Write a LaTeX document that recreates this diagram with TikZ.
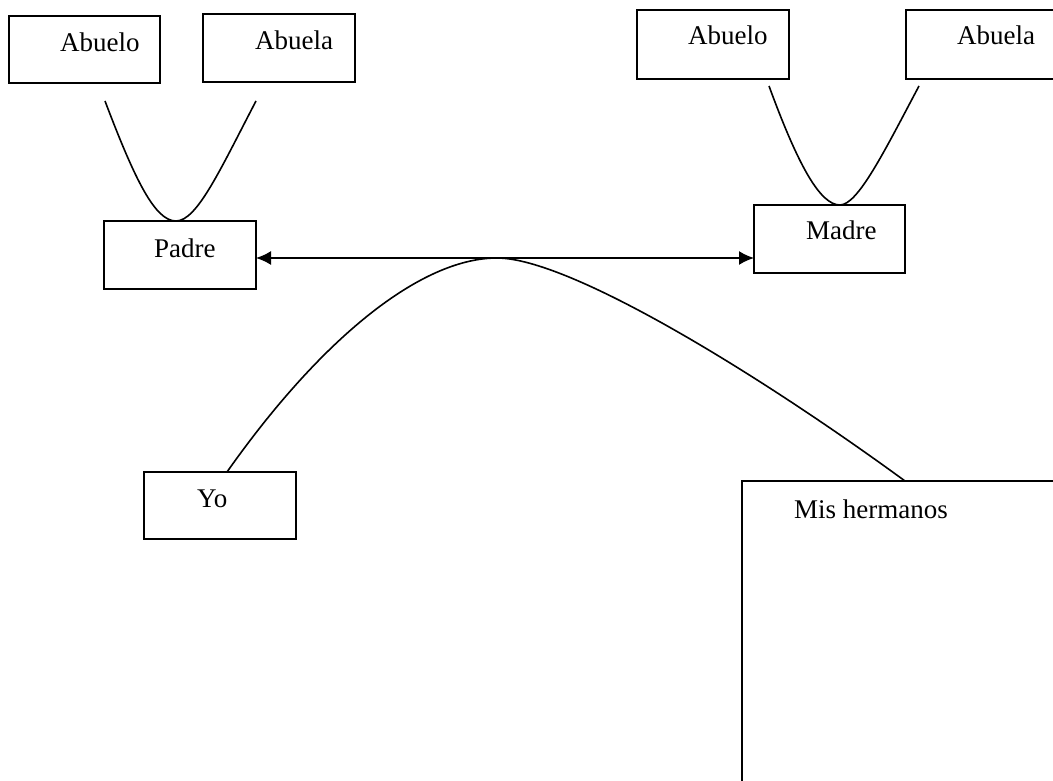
\documentclass[tikz,border=0pt]{standalone}
\usepackage{fontspec}
\setmainfont{Liberation Serif}
\usetikzlibrary{arrows.meta}
\begin{document}
\begin{tikzpicture}[x=1pt,y=-1pt,
  box/.style={draw,line width=1.8pt,rectangle,inner sep=0pt,outer sep=0pt},
  lbl/.style={anchor=base west,inner sep=0pt,font=\fontsize{27}{30}\selectfont},
  conn/.style={line width=1.6pt}]
\useasboundingbox (0,0) rectangle (1053,781);
% boxes
\node[box,minimum width=151pt,minimum height=67pt] (abueloL) at (84.5,49.5) {};
\node[box,minimum width=152pt,minimum height=68pt] (abuelaL) at (279,48) {};
\node[box,minimum width=152pt,minimum height=68pt] (padre) at (180,255) {};
\node[box,minimum width=152pt,minimum height=69pt] (abueloR) at (713,44.5) {};
\node[box,minimum width=156pt,minimum height=69pt] (abuelaR) at (984,44.5) {};
\node[box,minimum width=151pt,minimum height=68pt] (madre) at (829.5,239) {};
\node[box,minimum width=152pt,minimum height=67pt] (yo) at (220,505.5) {};
\node[box,minimum width=320pt,minimum height=312pt] (hermanos) at (902,637) {};
% texts
\node[lbl] (tAbueloL) at (60,52) {Abuelo};
\node[lbl] (tAbuelaL) at (255,50) {Abuela};
\node[lbl] (tPadre) at (154,257) {Padre};
\node[lbl] (tAbueloR) at (688,45) {Abuelo};
\node[lbl] (tAbuelaR) at (957,45) {Abuela};
\node[lbl] (tMadre) at (806,240) {Madre};
\node[lbl] (tYo) at (197,507) {Yo};
\node[lbl] (tHermanos) at (794,518) {Mis hermanos};
% free ends of the curves
\coordinate (cL1) at (105,101);
\coordinate (cL2) at (256,101);
\coordinate (cR1) at (769,86);
\coordinate (cR2) at (919,86);
\coordinate (peak) at (497,258);
% V curves
\draw[conn] (cL1) .. controls (135,180) and (155,221) .. (padre.north -| 176,0)
  .. controls (197,221) and (220,170) .. (cL2);
\draw[conn] (cR1) .. controls (798,165) and (820,205) .. (madre.north -| 840,0)
  .. controls (858,205) and (885,150) .. (cR2);
% marriage arrow
\draw[conn,{Latex[length=15pt,width=14pt]}-{Latex[length=15pt,width=14pt]}]
  ([yshift=-3pt]padre.east) -- ([yshift=-3pt]padre.east -| madre.west);
% big arc
\draw[conn] (yo.north -| 227,0) .. controls (320,340) and (420,258) .. (peak)
  .. controls (570,258) and (760,375) .. (hermanos.north -| 905,0);
\end{tikzpicture}
\end{document}
